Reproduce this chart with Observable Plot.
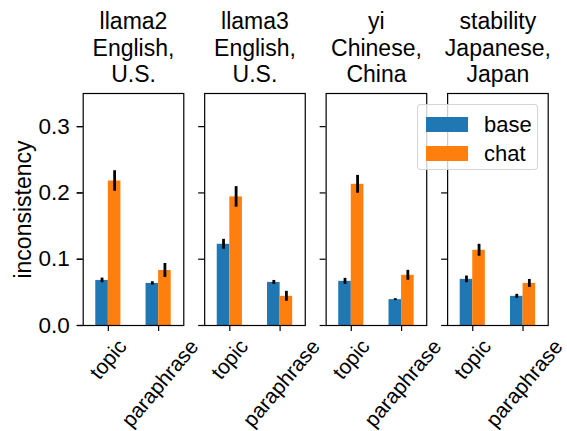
<!DOCTYPE html>
<html>
<head>
<meta charset="utf-8">
<script src="https://cdn.jsdelivr.net/npm/d3@7"></script>
<script src="https://cdn.jsdelivr.net/npm/@observablehq/plot@0.6"></script>
<style>
  html, body { margin: 0; padding: 0; background: white; }
  #wrap { position: relative; width: 567px; height: 431px; font-family: "Liberation Sans", Arial, sans-serif; }
  #legend { position: absolute; left: 417px; top: 104px; width: 119px; height: 64px;
            background: rgba(255,255,255,0.8); border: 1px solid rgba(204,204,204,0.8); border-radius: 4px; }
  .item { position: absolute; left: 8px; display: flex; align-items: center; }
  .sw { width: 42px; height: 14.4px; }
  .lab { margin-left: 16px; font-size: 22px; line-height: 1; color: black; }
</style>
</head>
<body>
<div id="wrap"></div>
<script>
// ---- data ----
const models = ["llama2", "llama3", "yi", "stability"];
const titles = ["llama2\nEnglish,\nU.S.", "llama3\nEnglish,\nU.S.", "yi\nChinese,\nChina", "stability\nJapanese,\nJapan"];
const categories = ["topic", "paraphrase"];
const series = ["base", "chat"];
const colors = ["#1f77b4", "#ff7f0e"];
const yTicks = [0, 0.1, 0.2, 0.3];
const yLabel = "inconsistency";

// mean values per model (llama2, llama3, yi, stability)
const baseTopic      = [0.068, 0.1225, 0.0666, 0.0696];
const baseParaphrase = [0.0635, 0.065, 0.039, 0.044];
const chatTopic      = [0.218, 0.194, 0.213, 0.1135];
const chatParaphrase = [0.083, 0.044, 0.0757, 0.0635];
// error half-widths
const baseTopicErr      = [0.0035, 0.0075, 0.0045, 0.005];
const baseParaphraseErr = [0.0025, 0.003, 0.0015, 0.003];
const chatTopicErr      = [0.0155, 0.0155, 0.0135, 0.009];
const chatParaphraseErr = [0.0105, 0.0075, 0.0075, 0.006];

// ---- table ----
const values = {base: {topic: baseTopic, paraphrase: baseParaphrase}, chat: {topic: chatTopic, paraphrase: chatParaphrase}};
const errs = {base: {topic: baseTopicErr, paraphrase: baseParaphraseErr}, chat: {topic: chatTopicErr, paraphrase: chatParaphraseErr}};
const rows = [];
models.forEach((m, mi) => {
  categories.forEach((c, ci) => {
    series.forEach((s, si) => {
      const v = values[s][c][mi], e = errs[s][c][mi];
      rows.push({model: m, category: c, series: s, value: v, lo: v - e, hi: v + e,
                 x1: ci + (si - 1) * 0.25, x2: ci + si * 0.25, xc: ci + (si - 0.5) * 0.25});
    });
  });
});
const titleRows = models.map((m, i) => ({model: m, title: titles[i]}));
const labelRows = [];
models.forEach(m => categories.forEach((c, ci) => labelRows.push({model: m, category: c, ci})));

const font = "'Liberation Sans', Arial, sans-serif";

const plot = Plot.plot({
  width: 567,
  height: 431,
  marginTop: 93,
  marginBottom: 106,
  marginLeft: 82.7,
  marginRight: 19.3,
  style: {fontFamily: font, fontSize: "22px", color: "black", background: "white"},
  fx: {domain: models, axis: null, paddingInner: 0.172, paddingOuter: 0, round: false, label: null},
  x: {domain: [-0.5, 1.5], axis: null},
  y: {domain: [0, 0.35], axis: null},
  color: {domain: series, range: colors},
  marks: [
    Plot.rectY(rows, {fx: "model", x1: "x1", x2: "x2", y1: 0, y2: "value", fill: "series"}),
    Plot.ruleX(rows, {fx: "model", x: "xc", y1: "lo", y2: "hi", stroke: "black", strokeWidth: 2.8}),
    Plot.frame({stroke: "black", strokeWidth: 1.2}),
    // y ticks with labels on first panel
    Plot.axisY(yTicks, {tickFormat: d3.format(".1f"), tickSize: 6, tickPadding: 7.5, fontSize: 22.5, label: null, strokeWidth: 1.2}),
    // y tick marks on every panel
    Plot.axisY(yTicks, {facetAnchor: null, tickSize: 6, fill: "none", label: null, strokeWidth: 1.2}),
    // x tick marks
    Plot.axisX([0, 1], {facetAnchor: null, tickSize: 6, fill: "none", label: null, strokeWidth: 1.2}),
    // rotated x tick labels (centered bounding boxes)
    Plot.text(labelRows.filter(d => d.ci === 0), {fx: "model", x: "ci", text: "category", frameAnchor: "bottom",
      dy: 34, rotate: -50, textAnchor: "middle", lineAnchor: "middle", fontSize: 21}),
    Plot.text(labelRows.filter(d => d.ci === 1), {fx: "model", x: "ci", text: "category", frameAnchor: "bottom",
      dx: 1.5, dy: 58, rotate: -50, textAnchor: "middle", lineAnchor: "middle", fontSize: 21}),
    // panel titles
    Plot.text(titleRows, {fx: "model", text: "title", frameAnchor: "top", dy: -11.5, lineAnchor: "bottom",
      textAnchor: "middle", fontSize: 23, lineHeight: 1.15}),
    // y label
    Plot.text([{model: models[0], label: yLabel}], {fx: "model", text: "label", frameAnchor: "left", dx: -60,
      rotate: -90, textAnchor: "middle", lineAnchor: "middle", fontSize: 23})
  ]
});

const wrap = document.getElementById("wrap");
wrap.appendChild(plot);

// legend built from the plot's color scale
const cs = plot.scale("color");
const leg = document.createElement("div");
leg.id = "legend";
cs.domain.forEach((name, i) => {
  const it = document.createElement("div");
  it.className = "item";
  it.style.top = (8.5 + i * 29) + "px";
  const sw = document.createElement("div");
  sw.className = "sw";
  sw.style.background = cs.range[i];
  const lab = document.createElement("span");
  lab.className = "lab";
  lab.textContent = name;
  it.appendChild(sw); it.appendChild(lab);
  leg.appendChild(it);
});
wrap.appendChild(leg);
</script>
</body>
</html>
